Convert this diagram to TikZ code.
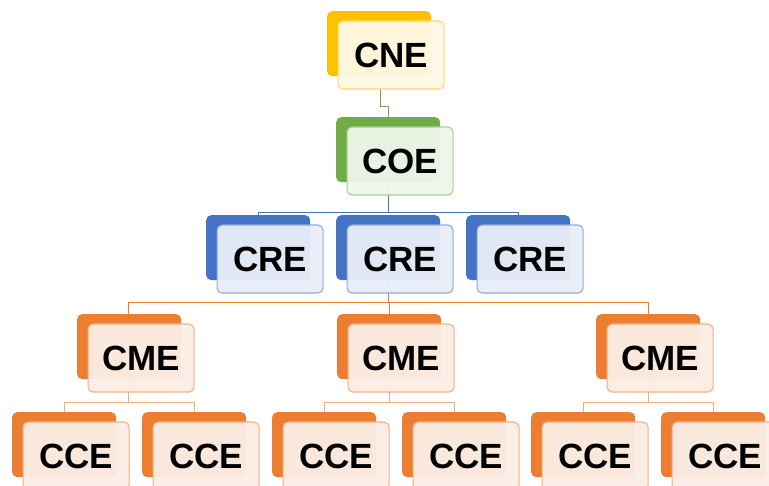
\documentclass[tikz,border=0pt]{standalone}
\usepackage{fontspec}
\setmainfont{Liberation Sans}
\usetikzlibrary{calc}
\definecolor{goldB}{HTML}{FFC000}\definecolor{goldL}{HTML}{FFD966}\definecolor{goldF}{HTML}{FFF8E6}
\definecolor{grnB}{HTML}{70AD47}\definecolor{grnL}{HTML}{A9D18E}\definecolor{grnF}{HTML}{EFF6EB}
\definecolor{bluB}{HTML}{4472C4}\definecolor{bluL}{HTML}{8FAADC}\definecolor{bluF}{HTML}{E9EEF8}
\definecolor{orgB}{HTML}{ED7D31}\definecolor{orgL}{HTML}{F4B183}\definecolor{orgF}{HTML}{FCEEE6}
\tikzset{
  backbox/.style={rounded corners=5pt, minimum width=104pt, minimum height=65pt, anchor=north west, inner sep=0pt, draw=none},
  frontbox/.style={rounded corners=5pt, minimum width=106pt, minimum height=68pt, anchor=north west, inner sep=0pt, line width=1.1pt, fill opacity=0.95, text opacity=1, font=\fontsize{35}{38}\bfseries\selectfont},
  conn/.style={line width=0.9pt},
}
\newcommand{\pairbox}[7]{%
  \node[backbox, fill=#5] (#1b) at (#2,#3) {};
  \node[frontbox, draw=#6, fill=#7] (#1) at ($(#2,#3)+(10.5,9.5)$) {#4};
}
\begin{document}
\begin{tikzpicture}[x=1pt,y=-1pt]
\clip (0,0) rectangle (769,486);
\fill[white] (0,0) rectangle (769,486);
% connectors (drawn first, behind boxes)
\coordinate (cneS) at (380,76);
\coordinate (coeN) at (388,117);
\coordinate (coeS) at (388,182);
\coordinate (creS) at (388,280);
\coordinate (meS1) at (128.5,379);
\coordinate (meS2) at (389,379);
\coordinate (meS3) at (648.5,379);
\draw[conn, grnB] (cneS) -- (380,106) -- (388,106) -- (coeN);
\draw[conn, bluB] (coeS) -- (388,212);
\draw[conn, bluB] (258,215) -- (258,212) -- (518,212) -- (518,215);
\draw[conn, orgB] (creS) -- (388,302);
\draw[conn, orgB] (128.5,314) -- (128.5,302) -- (648.5,302) -- (648.5,314);
\draw[conn, orgB] (389,302) -- (389,314);
\draw[conn, orgL!90!orgB] (meS1) -- (128.5,402);
\draw[conn, orgL!90!orgB] (64,412) -- (64,402) -- (194,402) -- (194,412);
\draw[conn, orgL!90!orgB] (meS2) -- (389,402);
\draw[conn, orgL!90!orgB] (324,412) -- (324,402) -- (454,402) -- (454,412);
\draw[conn, orgL!90!orgB] (meS3) -- (648.5,402);
\draw[conn, orgL!90!orgB] (583,412) -- (583,402) -- (713,402) -- (713,412);
% boxes
\pairbox{cne}{327}{11}{CNE}{goldB}{goldL}{goldF}
\pairbox{coe}{336}{117}{COE}{grnB}{grnL}{grnF}
\pairbox{creA}{206}{215}{CRE}{bluB}{bluL}{bluF}
\pairbox{creB}{336}{215}{CRE}{bluB}{bluL}{bluF}
\pairbox{creC}{466}{215}{CRE}{bluB}{bluL}{bluF}
\pairbox{cmeA}{77}{314}{CME}{orgB}{orgL}{orgF}
\pairbox{cmeB}{337}{314}{CME}{orgB}{orgL}{orgF}
\pairbox{cmeC}{596}{314}{CME}{orgB}{orgL}{orgF}
\pairbox{cceA}{12}{412}{CCE}{orgB}{orgL}{orgF}
\pairbox{cceB}{142}{412}{CCE}{orgB}{orgL}{orgF}
\pairbox{cceC}{272}{412}{CCE}{orgB}{orgL}{orgF}
\pairbox{cceD}{402}{412}{CCE}{orgB}{orgL}{orgF}
\pairbox{cceE}{531}{412}{CCE}{orgB}{orgL}{orgF}
\pairbox{cceF}{661}{412}{CCE}{orgB}{orgL}{orgF}
\end{tikzpicture}
\end{document}
